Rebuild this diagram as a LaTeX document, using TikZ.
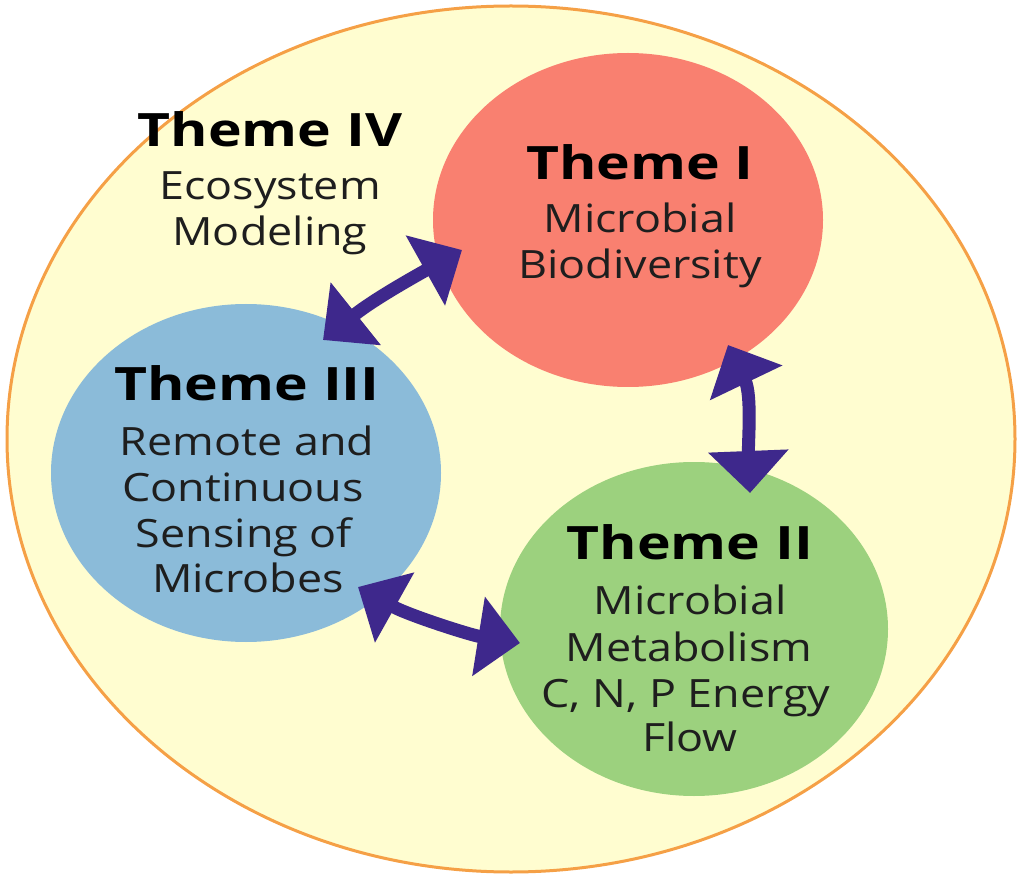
\documentclass[tikz,border=0pt]{standalone}
\usepackage{fontspec}
\setmainfont{Open Sans}
\usetikzlibrary{shapes.geometric,arrows.meta,calc}
\definecolor{paleyellow}{RGB}{255,253,208}
\definecolor{rimorange}{RGB}{245,160,70}
\definecolor{salmon}{RGB}{249,128,112}
\definecolor{skyblue}{RGB}{139,187,217}
\definecolor{leafgreen}{RGB}{156,209,126}
\definecolor{arrowpurple}{RGB}{62,40,140}
\definecolor{textgray}{RGB}{30,30,30}
\newcommand{\sx}[1]{\scalebox{1.15}[1]{#1}}
\newcommand{\sxt}[1]{\scalebox{1.24}[1]{#1}}
\tikzset{
  themecircle/.style={ellipse,inner sep=0pt,draw=none},
  title/.style={anchor=base,inner sep=0pt,font=\fontsize{46}{50}\selectfont\bfseries,text=black},
  body/.style={anchor=base,inner sep=0pt,font=\fontsize{39}{44}\selectfont,text=textgray},
  link/.style={draw=arrowpurple,line width=13pt,
    {Triangle[length=42pt,width=78pt,fill=arrowpurple]}-{Triangle[length=42pt,width=78pt,fill=arrowpurple]}}
}
\begin{document}
\begin{tikzpicture}[x=1pt,y=-1pt]
\useasboundingbox (0,0) rectangle (1018,877);
% outer ellipse (Theme IV)
\node[themecircle,fill=paleyellow,draw=rimorange,line width=3pt,minimum width=1008pt,minimum height=866pt] (outer) at (511,439) {};
% theme circles
\node[themecircle,fill=salmon,minimum width=390pt,minimum height=334pt] (red) at (628,220) {};
\node[themecircle,fill=skyblue,minimum width=390pt,minimum height=338pt] (blue) at (246,473) {};
\node[themecircle,fill=leafgreen,minimum width=388pt,minimum height=334pt] (green) at (694,629) {};
% Theme IV text
\node[title] (t4a) at (270,147) {\sxt{Theme IV}};
\node[body] (t4b) at (270,200) {\sx{Ecosystem}};
\node[body] (t4c) at (270,246) {\sx{Modeling}};
% Theme I text
\node[title] (t1a) at (640,180) {\sxt{Theme I}};
\node[body] (t1b) at (640,233) {\sx{Microbial}};
\node[body] (t1c) at (640,279) {\sx{Biodiversity}};
% Theme III text
\node[title] (t3a) at (247,401) {\sxt{Theme III}};
\node[body] (t3b) at (247,455) {\sx{Remote and}};
\node[body] (t3c) at (243,501) {\sx{Continuous}};
\node[body] (t3d) at (244,547) {\sx{Sensing of}};
\node[body] (t3e) at (248,592) {\sx{Microbes}};
% Theme II text
\node[title] (t2a) at (690,559) {\sxt{Theme II}};
\node[body] (t2b) at (690,614) {\sx{Microbial}};
\node[body] (t2c) at (689,661) {\sx{Metabolism}};
\node[body] (t2d) at (686,707) {\sx{C, N, P Energy}};
\node[body] (t2e) at (690,751) {\sx{Flow}};
% arrow end points
\coordinate (a1s) at (323,340);
\coordinate (a1e) at (462,250);
\coordinate (a2s) at (728,345);
\coordinate (a2e) at (750,493);
\coordinate (a3s) at (358,587);
\coordinate (a3e) at (520,643);
% connectors
\draw[link] (a1s) .. controls ($(a1s)+(50,-40)$) and ($(a1e)+(-50,28)$) .. (a1e);
\draw[link] (a2s) .. controls ($(a2s)+(24,50)$) and ($(a2e)+(-2,-50)$) .. (a2e);
\draw[link] (a3s) .. controls ($(a3s)+(50,28)$) and ($(a3e)+(-50,-8)$) .. (a3e);
\end{tikzpicture}
\end{document}
